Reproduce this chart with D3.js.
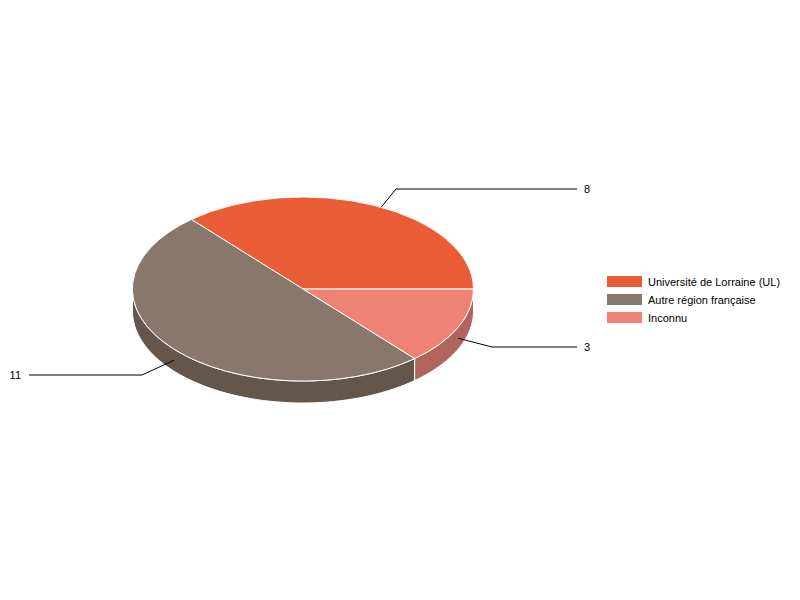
<!DOCTYPE html>
<html>
<head>
<meta charset="utf-8">
<script src="https://cdnjs.cloudflare.com/ajax/libs/d3/7.8.5/d3.min.js"></script>
<style>
	body { margin: 0; background: #fff; }
	svg { display: block; }
	text { font-family: "Liberation Sans", Arial, sans-serif; font-size: 11px; fill: #000; opacity: 0.999; }
</style>
</head>
<body>
<div id="chart-area"></div>
<script>
var categories = ["Université de Lorraine (UL)", "Autre région française", "Inconnu"];
var values = [8, 11, 3];
var colors = ["#EA5C36", "#88776A", "#EE8275"];
var sideColors = ["#A4412B", "#65564C", "#B0645B"];

var width = 800;
var height = 600;

// ellipse of the top face, and how thick the pie is
var cx = 303;
var cy = 289;
var rx = 170.5;
var ry = 92;
var depth = 22;

// leader lines: elbow and end of the line, the label sits after it
var leaders = [
	{ elbow: [396, 189], end: 577, labelX: 584, anchor: "start" },
	{ elbow: [142, 375], end: 29, labelX: 21, anchor: "end" },
	{ elbow: [492, 347], end: 577, labelX: 584, anchor: "start" }
];

var svg = d3.select("#chart-area")
	.append("svg")
	.attr("width", width)
	.attr("height", height);

var slices = d3.pie()
	.sort(null)
	.startAngle(Math.PI / 2)
	.endAngle(Math.PI / 2 - 2 * Math.PI)(values);

function pointAt(a, dy) {
	return [cx + rx * Math.sin(a), cy - ry * Math.cos(a) + dy];
}

// Side walls, only the front half of the ellipse shows
var line = d3.line();
var walls = svg.append("g").attr("class", "walls");
slices.forEach(function (d, i) {
	var a0 = Math.min(d.startAngle, -Math.PI / 2);
	var a1 = Math.max(d.endAngle, -3 * Math.PI / 2);
	if (a0 <= a1) return;

	var steps = d3.range(0, 61).map(t => a0 + (a1 - a0) * t / 60);
	var pts = steps.map(a => pointAt(a, 0))
		.concat(steps.slice().reverse().map(a => pointAt(a, depth)));

	walls.append("path")
		.attr("d", line(pts) + "Z")
		.attr("fill", sideColors[i])
		.attr("stroke", "#fff")
		.attr("stroke-width", 1);
});

// Leaders go under the top face, they start half way down the wall
var lines = svg.append("g").attr("class", "leaders");
slices.forEach(function (d, i) {
	var mid = (d.startAngle + d.endAngle) / 2;
	var l = leaders[i];

	lines.append("path")
		.attr("d", line([pointAt(mid, depth / 2), l.elbow, [l.end, l.elbow[1]]]))
		.attr("fill", "none")
		.attr("stroke", "#000")
		.attr("stroke-width", 1);

	svg.append("text")
		.attr("x", l.labelX)
		.attr("y", l.elbow[1] + 4)
		.attr("text-anchor", l.anchor)
		.text(values[i]);
});

// Top face: unit arcs stretched to the ellipse
var arc = d3.arc().innerRadius(0).outerRadius(1);
svg.append("g")
	.attr("transform", `translate(${cx}, ${cy}) scale(${rx}, ${ry})`)
	.selectAll("path")
	.data(slices)
	.enter()
	.append("path")
	.attr("d", arc)
	.attr("fill", (d, i) => colors[i])
	.attr("stroke", "#fff")
	.attr("stroke-width", 1)
	.attr("vector-effect", "non-scaling-stroke");

// Legend
var legend = svg.append("g")
	.attr("class", "legend")
	.selectAll("g")
	.data(categories)
	.enter()
	.append("g")
	.attr("transform", (d, i) => `translate(607, ${276 + i * 18})`);

legend.append("rect")
	.attr("width", 35)
	.attr("height", 11)
	.attr("fill", (d, i) => colors[i]);

legend.append("text")
	.attr("x", 41)
	.attr("y", 10)
	.text(d => d);
</script>
</body>
</html>
